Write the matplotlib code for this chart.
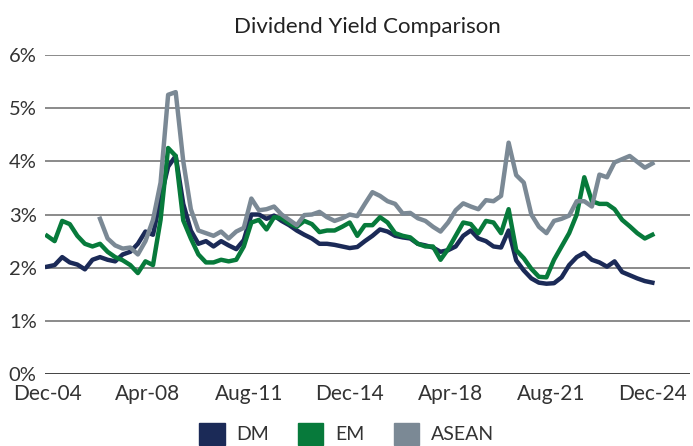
import numpy as np
import matplotlib
matplotlib.use("Agg")
import matplotlib.pyplot as plt
from matplotlib.patches import Patch

# quarterly readings, Dec-04 .. Dec-24 (yield in %)
dm = [2.02, 2.05, 2.20, 2.10, 2.06, 1.97, 2.15, 2.20, 2.15, 2.12,
      2.25, 2.30, 2.45, 2.68, 2.62, 3.30, 3.90, 4.10, 3.20, 2.70,
      2.45, 2.50, 2.40, 2.50, 2.42, 2.35, 2.52, 3.00, 3.00, 2.92,
      2.98, 2.88, 2.80, 2.70, 2.62, 2.55, 2.45, 2.45, 2.43, 2.40,
      2.37, 2.39, 2.50, 2.60, 2.72, 2.68, 2.60, 2.57, 2.55, 2.45,
      2.42, 2.38, 2.30, 2.33, 2.40, 2.60, 2.70, 2.55, 2.50, 2.40,
      2.38, 2.70, 2.14, 1.95, 1.80, 1.72, 1.70, 1.71, 1.82, 2.05,
      2.20, 2.28, 2.15, 2.10, 2.02, 2.12, 1.92, 1.86, 1.80, 1.75,
      1.72]
em = [2.60, 2.50, 2.88, 2.82, 2.60, 2.45, 2.40, 2.45, 2.30, 2.20,
      2.14, 2.05, 1.90, 2.12, 2.05, 2.90, 4.25, 4.10, 2.89, 2.55,
      2.25, 2.10, 2.10, 2.15, 2.12, 2.15, 2.40, 2.85, 2.90, 2.72,
      2.95, 2.93, 2.83, 2.77, 2.88, 2.82, 2.67, 2.70, 2.70, 2.77,
      2.85, 2.60, 2.80, 2.80, 2.95, 2.85, 2.65, 2.60, 2.57, 2.45,
      2.40, 2.40, 2.15, 2.35, 2.60, 2.85, 2.82, 2.65, 2.88, 2.85,
      2.65, 3.10, 2.33, 2.18, 1.98, 1.83, 1.82, 2.15, 2.40, 2.65,
      3.00, 3.70, 3.25, 3.20, 3.20, 3.10, 2.90, 2.78, 2.65, 2.55,
      2.62]
asean = [np.nan] * 7 + [
      2.92, 2.55, 2.42, 2.36, 2.38, 2.25, 2.50, 2.90, 3.60, 5.25,
      5.30, 4.00, 3.10, 2.70, 2.65, 2.60, 2.68, 2.55, 2.68, 2.75,
      3.30, 3.08, 3.10, 3.15, 3.00, 2.90, 2.80, 2.99, 3.00, 3.05,
      2.95, 2.88, 2.93, 3.00, 2.97, 3.20, 3.42, 3.35, 3.25, 3.20,
      3.02, 3.03, 2.93, 2.88, 2.77, 2.68, 2.85, 3.08, 3.21, 3.15,
      3.10, 3.27, 3.25, 3.35, 4.35, 3.74, 3.60, 3.00, 2.77, 2.65,
      2.88, 2.92, 2.98, 3.25, 3.25, 3.15, 3.75, 3.70, 3.98, 4.04,
      4.10, 3.99, 3.88, 3.96]

tick_labels = ["Dec-04", "Apr-08", "Aug-11", "Dec-14", "Apr-18", "Aug-21", "Dec-24"]

months = np.arange(len(dm)) * 3

plt.rcParams["font.family"] = ["Lato", "DejaVu Sans"]

c_dm = "#1b2a57"
c_em = "#077a3b"
c_as = "#7b8995"

fig = plt.figure(figsize=(6.93, 4.46), dpi=100)
ax = fig.add_axes([0.065, 0.161, 0.931, 0.716])

for y in range(1, 7):
    ax.axhline(y, color="#8a8a8a", lw=1.4, zorder=0)
ax.axhline(0, color="#222222", lw=1.2, zorder=0)

ax.plot(months, dm, color=c_dm, lw=3.2)
ax.plot(months, em, color=c_em, lw=3.2)
ax.plot(months, asean, color=c_as, lw=3.2)

ax.set_xlim(-0.8, 255)
ax.set_ylim(0, 6)
ax.set_yticks(range(7))
ax.set_yticklabels([f"{i}%" for i in range(7)], fontsize=14.5)
ax.set_xticks(np.arange(0, 241, 40))
ax.set_xticklabels(tick_labels, fontsize=15)
ax.tick_params(length=0, colors="#333333")
ax.tick_params(axis="x", pad=7)
ax.tick_params(axis="y", pad=6)
for s in ax.spines.values():
    s.set_visible(False)

ax.set_title("Dividend Yield Comparison", fontsize=16, color="#222222", pad=16)

handles = [Patch(color=c_dm, label="DM"), Patch(color=c_em, label="EM"),
           Patch(color=c_as, label="ASEAN")]
fig.legend(handles=handles, loc="center", bbox_to_anchor=(0.5, 0.027), ncol=3,
           frameon=False, fontsize=14, handlelength=1.3, handleheight=1.3,
           columnspacing=1.5, handletextpad=0.6, labelcolor="#333333")

fig.savefig("out.png", dpi=100)
